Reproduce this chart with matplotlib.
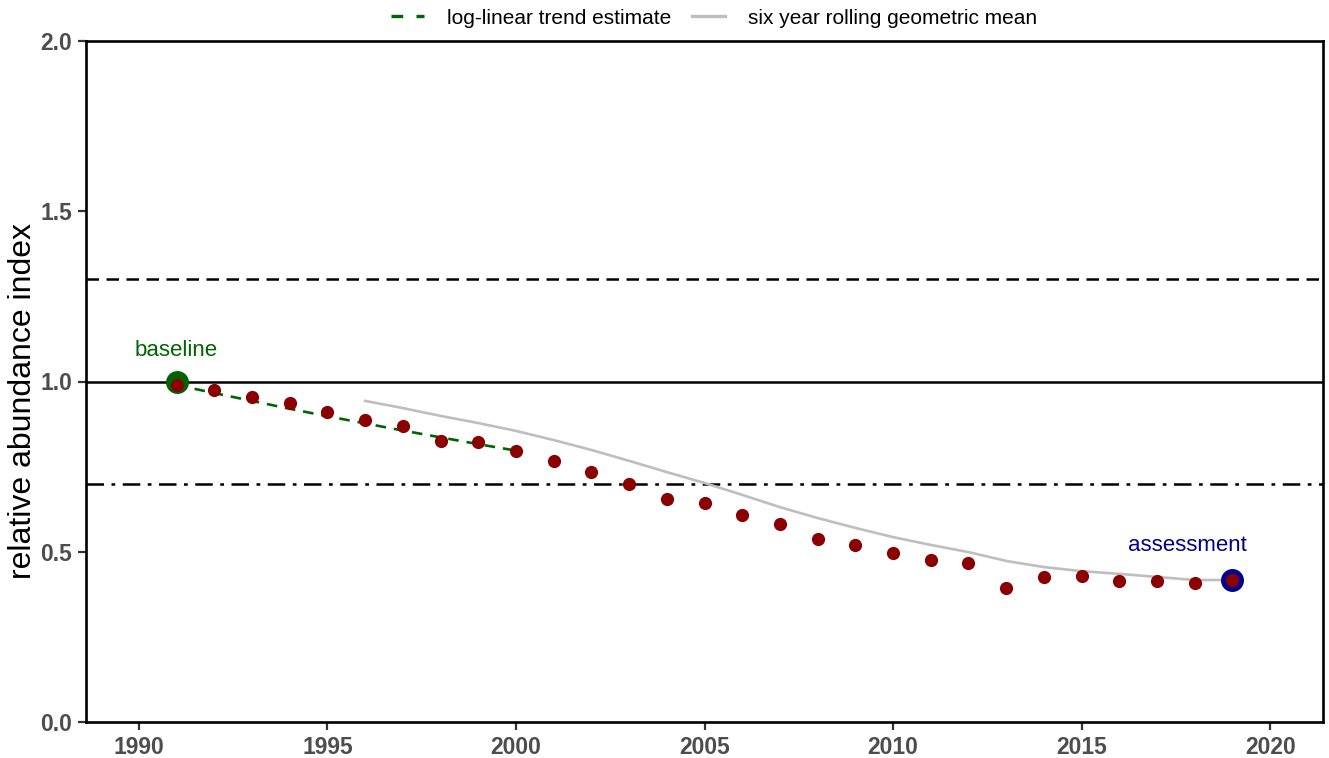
import matplotlib.pyplot as plt
from matplotlib.lines import Line2D

plt.rcParams['font.family'] = ['Liberation Sans', 'DejaVu Sans']

# annual index values
years = list(range(1991, 2020))
index = [0.99, 0.975, 0.955, 0.937, 0.91, 0.887, 0.869, 0.825, 0.822, 0.796,
         0.766, 0.734, 0.699, 0.655, 0.643, 0.608, 0.581, 0.537, 0.52, 0.496,
         0.476, 0.467, 0.394, 0.426, 0.429, 0.414, 0.414, 0.408, 0.417]

# six year rolling geometric mean (trailing)
roll_years = list(range(1996, 2020))
roll_mean = [0.943, 0.922, 0.899, 0.878, 0.855, 0.828, 0.799, 0.767, 0.734,
             0.702, 0.667, 0.631, 0.599, 0.570, 0.543, 0.520, 0.499, 0.473,
             0.455, 0.443, 0.435, 0.426, 0.417, 0.417]

# log-linear trend over the first decade
trend_years = list(range(1991, 2001))
trend = [0.99, 0.966, 0.943, 0.920, 0.898, 0.877, 0.856, 0.836, 0.816, 0.797]

ref_upper, ref_mid, ref_lower = 1.3, 1.0, 0.7
baseline_year, baseline_val = 1991, 1.0
assess_year, assess_val = 2019, 0.417

fig = plt.figure(figsize=(13.29, 7.58), dpi=100)
ax = fig.add_axes([86 / 1329, 1 - 722 / 758, (1323 - 86) / 1329, (722 - 41) / 758])

ax.axhline(ref_upper, color='black', lw=1.8, ls=(0, (5, 3)))
ax.axhline(ref_mid, color='black', lw=1.8)
ax.axhline(ref_lower, color='black', lw=1.8, ls=(0, (7, 3, 1.5, 3)))

ax.plot(roll_years, roll_mean, color='#bebebe', lw=1.9)
ax.plot(trend_years, trend, color='#006400', lw=1.9, ls=(0, (4, 3)))

ax.plot([baseline_year], [baseline_val], 'o', color='#006400', ms=15.5)
ax.plot([assess_year], [assess_val], 'o', color='#00008B', ms=15.5)
ax.plot(years, index, 'o', color='#8B0000', ms=9.5, mec='none')

ax.text(baseline_year, 1.09, 'baseline', color='#006400', fontsize=16, ha='center', va='center')
ax.text(2017.8, 0.517, 'assessment', color='#00008B', fontsize=16, ha='center', va='center')

ax.set_xlim(1988.6, 2021.4)
ax.set_ylim(0, 2)
ax.set_xticks([1990, 1995, 2000, 2005, 2010, 2015, 2020])
ax.set_yticks([0.0, 0.5, 1.0, 1.5, 2.0])
ax.set_yticklabels(['0.0', '0.5', '1.0', '1.5', '2.0'])
ax.tick_params(length=6, width=1.6, color='#333333', labelsize=16.5, labelcolor='#4d4d4d', pad=4)
for lab in ax.get_xticklabels() + ax.get_yticklabels():
    lab.set_fontweight('bold')
for sp in ax.spines.values():
    sp.set_linewidth(1.9)
    sp.set_color('black')
ax.set_ylabel('relative abundance index', fontsize=23)
ax.yaxis.set_label_coords(-0.039, 0.471)

handles = [Line2D([], [], color='#006400', lw=2.4, ls=(0, (3.5, 4))),
           Line2D([], [], color='#bebebe', lw=2.4)]
fig.legend(handles, ['log-linear trend estimate', 'six year rolling geometric mean'],
           loc='center', bbox_to_anchor=(714 / 1329, 1 - 18 / 758), ncol=2,
           frameon=False, fontsize=15, handlelength=1.6, columnspacing=1.0,
           handletextpad=1.1)

fig.savefig('out.png', dpi=100, facecolor='white')
